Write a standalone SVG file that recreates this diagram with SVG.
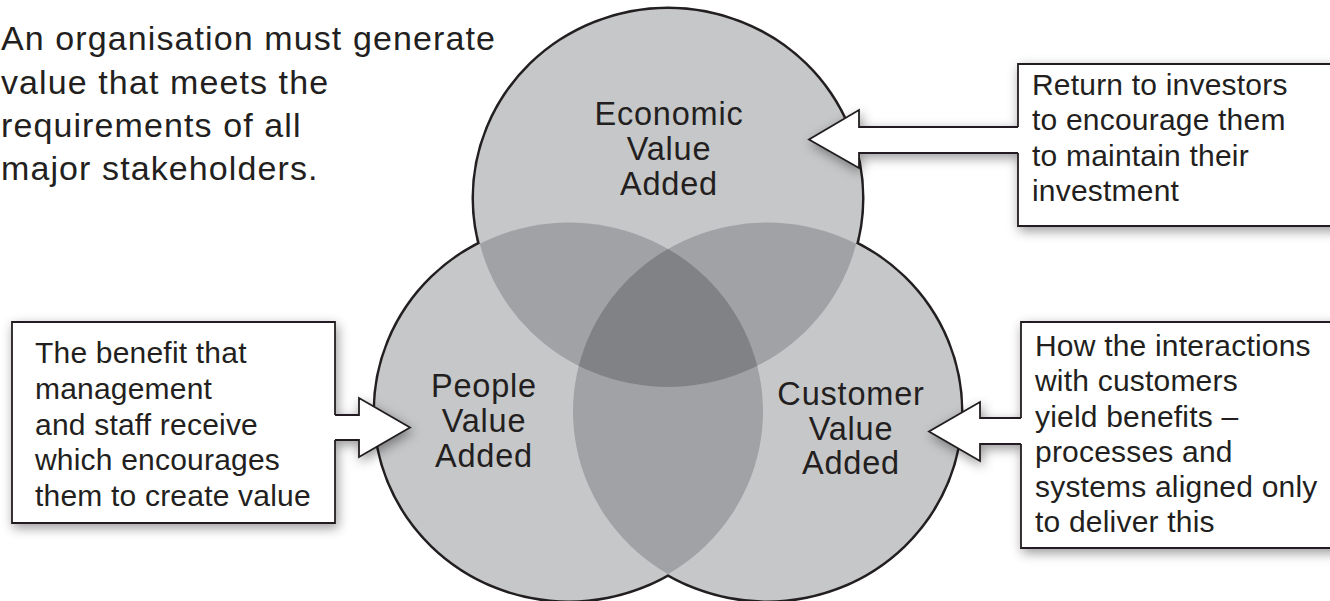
<svg xmlns="http://www.w3.org/2000/svg" width="1330" height="601" viewBox="0 0 1330 601">
<style>
.txt{font-family:"Liberation Sans",Arial,Helvetica,sans-serif;fill:#231f20}
.head{font-size:34px;letter-spacing:1.1px}
.lbl{font-size:32.5px;letter-spacing:0.8px;text-anchor:middle}
.box{font-size:30px;letter-spacing:0.2px}
.shape{fill:#ffffff;stroke:#231f20;stroke-width:1.8;stroke-linejoin:miter}
.c1{fill:#c6c7c9}
.c2{fill:#a1a2a5}
.c3{fill:#818286}
.ol{fill:none;stroke:#231f20;stroke-width:5}
</style>
<defs>
<ellipse id="eT" cx="668" cy="198" rx="194" ry="189"/>
<ellipse id="eL" cx="569" cy="411.5" rx="194" ry="189"/>
<ellipse id="eR" cx="767" cy="411.5" rx="194" ry="189"/>
<clipPath id="clT"><use href="#eT"/></clipPath>
<clipPath id="clL"><use href="#eL"/></clipPath>
<clipPath id="clR"><use href="#eR"/></clipPath>
<filter id="sh" x="-10%" y="-20%" width="120%" height="140%">
<feDropShadow dx="2" dy="4" stdDeviation="6" flood-color="#000" flood-opacity="0.4"/>
</filter>
</defs>
<rect width="1330" height="601" fill="#ffffff"/>
<g id="heading">
<text class="txt head" x="1" y="50">An organisation must generate</text>
<text class="txt head" x="1" y="93.5">value that meets the</text>
<text class="txt head" x="1" y="137">requirements of all</text>
<text class="txt head" x="1" y="180">major stakeholders.</text>
</g>
<g id="venn">
<use href="#eT" class="ol"/>
<use href="#eL" class="ol"/>
<use href="#eR" class="ol"/>
<use href="#eT" class="c1"/>
<use href="#eL" class="c1"/>
<use href="#eR" class="c1"/>
<g clip-path="url(#clT)"><use href="#eL" class="c2"/><use href="#eR" class="c2"/></g>
<g clip-path="url(#clL)"><use href="#eR" class="c2"/></g>
<g clip-path="url(#clT)"><g clip-path="url(#clL)"><use href="#eR" class="c3"/></g></g>
</g>
<g id="node-economic">
<text class="txt lbl" x="669" y="125">Economic</text>
<text class="txt lbl" x="669" y="160">Value</text>
<text class="txt lbl" x="669" y="195">Added</text>
</g>
<g id="node-people">
<text class="txt lbl" x="484" y="397">People</text>
<text class="txt lbl" x="484" y="432">Value</text>
<text class="txt lbl" x="484" y="467">Added</text>
</g>
<g id="node-customer">
<text class="txt lbl" x="851" y="405">Customer</text>
<text class="txt lbl" x="851" y="439.5">Value</text>
<text class="txt lbl" x="851" y="474">Added</text>
</g>
<g filter="url(#sh)">
<g id="connectors">
<path class="shape" d="M1024,127 H859 V110 L809,139.5 L859,168 V153 H1024 Z"/>
<path class="shape" d="M330,415 H359 V398 L410,427.5 L359,457 V440 H330 Z"/>
<path class="shape" d="M1027,418 H980 V402 L929,431.5 L980,461 V444 H1027 Z"/>
</g>
<g id="callout-investors">
<path class="shape" d="M1018,127 V64 H1340 V226 H1018 V153"/>
</g>
<g id="callout-staff">
<path class="shape" d="M335,415 V322 H12 V523 H335 V440"/>
</g>
<g id="callout-customers">
<path class="shape" d="M1021,418 V322 H1340 V548 H1021 V444"/>
</g>
</g>
<g id="text-investors">
<text class="txt box" x="1032" y="95">Return to investors</text>
<text class="txt box" x="1032" y="130">to encourage them</text>
<text class="txt box" x="1032" y="166">to maintain their</text>
<text class="txt box" x="1032" y="201">investment</text>
</g>
<g id="text-staff">
<text class="txt box" x="35" y="363">The benefit that</text>
<text class="txt box" x="35" y="399">management</text>
<text class="txt box" x="35" y="434.5">and staff receive</text>
<text class="txt box" x="35" y="470">which encourages</text>
<text class="txt box" x="35" y="506">them to create value</text>
</g>
<g id="text-customers">
<text class="txt box" x="1035" y="356">How the interactions</text>
<text class="txt box" x="1035" y="391">with customers</text>
<text class="txt box" x="1035" y="427">yield benefits –</text>
<text class="txt box" x="1035" y="462">processes and</text>
<text class="txt box" x="1035" y="497">systems aligned only</text>
<text class="txt box" x="1035" y="532">to deliver this</text>
</g>
</svg>
